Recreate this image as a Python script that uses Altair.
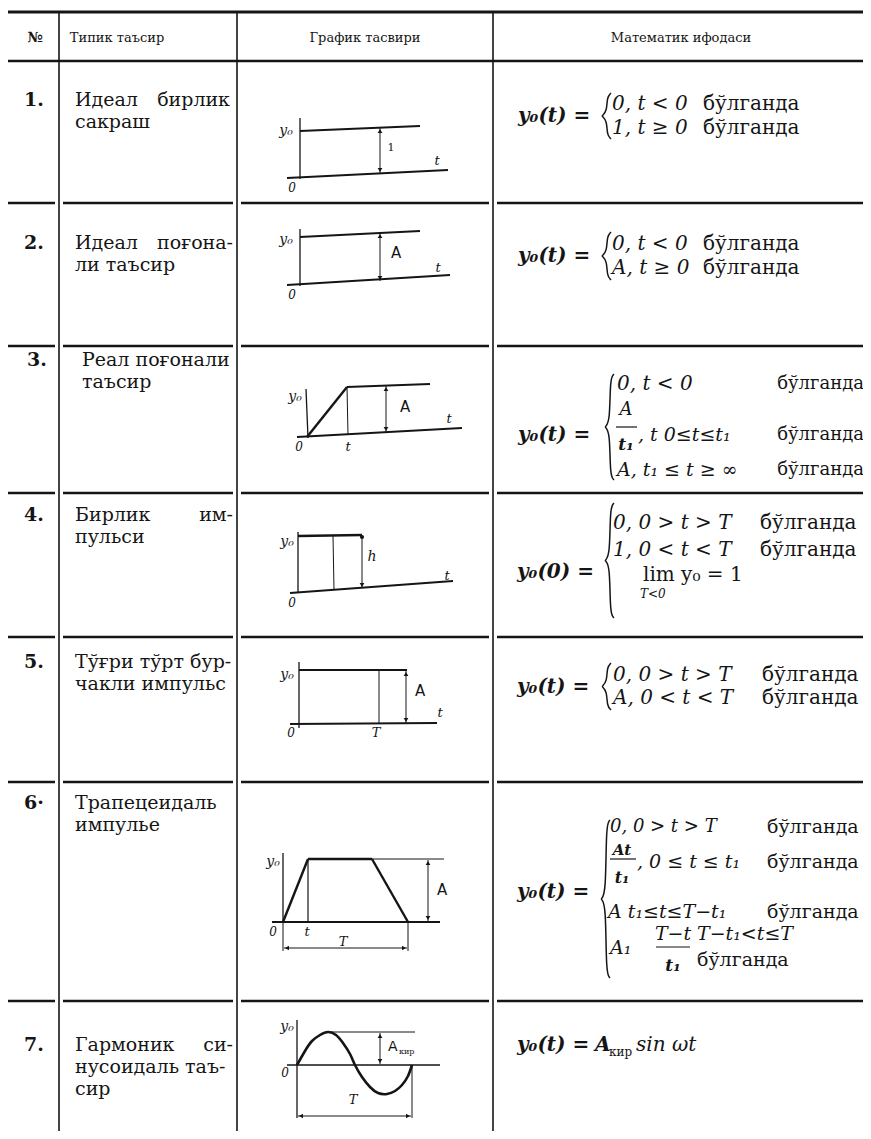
import altair as alt
import pandas as pd

INK = "#151515"
FONT = "DejaVu Serif"

# ---------------- table content ----------------
headers = ["№", "Типик таъсир", "График тасвири", "Математик ифодаси"]
header_x = [35, 117, 365, 681]
numbers = ["1.", "2.", "3.", "4.", "5.", "6·", "7."]
row_text_y = [100, 243, 360, 515, 662, 803, 1045]

# ---------------- table grid (page pixels) ----------------
TOP_Y = 12
HEAD_Y = 61
ROW_Y = [203, 346, 493, 637, 782, 1001]
COL_X = [59, 237, 493]
LEFT, RIGHT, BOTTOM = 6, 866, 1131

# ---------------- sketches: segments (x1, y1, x2, y2, width) ----------------
sk1 = [(300, 118, 300, 179, 1.3), (300, 131, 420, 126, 2.2), (287, 178, 448, 170, 2.0)]
sk2 = [(300, 229, 300, 286, 1.3), (300, 237, 420, 231, 2.2), (287, 285, 450, 275, 2.0)]
sk3 = [(306, 389, 308, 438, 1.3), (297, 437, 462, 428, 2.0), (307, 437, 347, 387, 2.4),
       (347, 387, 430, 384, 2.2), (347, 387, 348, 435, 1.0)]
sk4 = [(298, 532, 298, 593, 1.3), (298, 536, 362, 535, 2.4), (333, 536, 334, 590, 1.0),
       (290, 593, 453, 581, 2.0)]
sk5 = [(299, 662, 299, 728, 1.3), (299, 670, 407, 670, 2.2), (290, 724, 437, 723, 2.0),
       (379, 670, 379, 724, 1.0)]
sk6 = [(283, 853, 283, 922, 1.3), (272, 922, 440, 922, 1.8), (283, 922, 308, 859, 2.4),
       (308, 859, 372, 859, 2.4), (372, 859, 408, 922, 2.4), (308, 859, 308, 922, 1.2),
       (372, 859, 444, 859, 1.0), (283, 922, 283, 951, 1.0), (408, 922, 408, 951, 1.0)]
sk7 = [(297, 1020, 297, 1118, 1.3), (287, 1065, 440, 1065, 1.5), (328, 1032, 415, 1032, 1.0),
       (412, 1065, 412, 1118, 1.0)]

# dimension arrows (x1, y1, x2, y2, head at start, head at end)
arrows = [
    (380, 128, 380, 173, True, True),
    (380, 233, 380, 281, True, True),
    (386, 386, 386, 432, True, True),
    (362, 537, 362, 588, False, True),
    (406, 671, 406, 723, True, True),
    (428, 860, 428, 921, True, True),
    (284, 948, 407, 948, True, True),
    (380, 1033, 380, 1064, True, True),
    (298, 1116, 411, 1116, True, True),
]
dots = [(362, 537)]

# harmonic curve
sine_x = [297, 305, 312, 320, 328, 336, 343, 350, 355, 362, 370, 378, 387, 395, 402, 408, 412]
sine_y = [1065, 1051, 1041, 1035, 1032, 1035, 1043, 1054, 1065, 1077, 1087, 1093, 1094, 1091, 1085, 1076, 1065]

# braces (x, top, bottom)
braces = [(605, 93, 139), (605, 232, 280), (608, 374, 480), (608, 503, 618),
          (605, 663, 710), (604, 820, 978)]

# fraction bars
fraction_bars = [(616, 427, 637, 427, 1.2), (610, 859, 636, 859, 1.2), (656, 947, 690, 947, 1.2)]

# ---------------- texts ----------------
texts = []


def T(t, x, y, st="reg", s=19, al="left"):
    texts.append(dict(t=t, x=x, y=y, st=st, s=s, al=al))


# header
T(headers[0], header_x[0], 38, "bold", 14, "center")
for h, hx in zip(headers[1:], header_x[1:]):
    T(h, hx, 38, "reg", 13, "center")

# row numbers
for n, ny in zip(numbers, row_text_y):
    T(n, 34 if n != "3." else 37, ny, "bold", 19, "center")

# type column
T("Идеал", 75, 100); T("бирлик", 230, 100, al="right"); T("сакраш", 75, 122)
T("Идеал", 75, 243); T("поғона-", 233, 243, al="right"); T("ли таъсир", 75, 265)
T("Реал поғонали", 82, 360); T("таъсир", 82, 382)
T("Бирлик", 75, 515); T("им-", 233, 515, al="right"); T("пульси", 75, 537)
T("Тўғри тўрт бур-", 75, 662); T("чакли импульс", 75, 684)
T("Трапецеидаль", 75, 803); T("импулье", 75, 825)
T("Гармоник", 75, 1045); T("си-", 233, 1045, al="right"); T("нусоидаль таъ-", 75, 1067); T("сир", 75, 1089)

# sketch labels
for (lx, ly) in [(286, 131), (286, 240), (295, 397), (287, 542), (287, 675), (273, 862), (287, 1027)]:
    T("y₀", lx, ly, "ital", 14, "center")
for (lx, ly) in [(292, 188), (292, 295), (299, 447), (292, 603), (291, 733), (273, 932), (285, 1073)]:
    T("0", lx, ly, "ital", 12, "center")
for (lx, ly) in [(437, 161), (438, 268), (449, 419), (447, 576), (440, 713), (348, 447), (307, 932)]:
    T("t", lx, ly, "ital", 13, "center")
T("1", 391, 148, "reg", 11, "center")
T("h", 372, 557, "ital", 14, "center")
for (lx, ly) in [(376, 733), (343, 942), (353, 1100)]:
    T("T", lx, ly, "ital", 13, "center")
for (lx, ly) in [(396, 253), (405, 407), (420, 691), (442, 890)]:
    T("A", lx, ly, "sans", 15, "center")
T("A", 388, 1047, "sans", 14, "left"); T("кир", 399, 1052, "reg", 8, "left")

# mathematical expressions
S = 20
T("y₀(t) =", 518, 116, "bital", S); T("0,  t < 0", 612, 104, "ital", S); T("бўлганда", 703, 104, "reg", S)
T("1,  t ≥ 0", 612, 128, "ital", S); T("бўлганда", 703, 128, "reg", S)

T("y₀(t) =", 518, 256, "bital", S); T("0,  t < 0", 612, 244, "ital", S); T("бўлганда", 703, 244, "reg", S)
T("A,  t ≥ 0", 612, 268, "ital", S); T("бўлганда", 703, 268, "reg", S)

T("y₀(t) =", 518, 435, "bital", S)
T("0,  t < 0", 617, 384, "ital", S); T("бўлганда", 864, 384, "reg", 18, "right")
T("A", 626, 410, "ital", 18, "center"); T("t₁", 626, 445, "bital", 17, "center")
T(", t 0≤t≤t₁", 638, 435, "ital", 19); T("бўлганда", 864, 435, "reg", 18, "right")
T("A,  t₁ ≤ t ≥ ∞", 617, 470, "ital", 19); T("бўлганда", 864, 470, "reg", 18, "right")

T("y₀(0) =", 517, 572, "bital", S)
T("0,  0 > t > T", 613, 523, "ital", S); T("бўлганда", 760, 523, "reg", S)
T("1,  0 < t < T", 613, 550, "ital", S); T("бўлганда", 760, 550, "reg", S)
T("lim  y₀ = 1", 643, 575, "reg", S); T("T<0", 640, 594, "ital", 12)

T("y₀(t) =", 517, 687, "bital", S)
T("0,  0 > t > T", 613, 675, "ital", S); T("бўлганда", 762, 675, "reg", S)
T("A,  0 < t < T", 613, 698, "ital", S); T("бўлганда", 762, 698, "reg", S)

T("y₀(t) =", 517, 892, "bital", S)
T("0,  0 > t > T", 610, 827, "ital", 18); T("бўлганда", 767, 827, "reg", 19)
T("At", 622, 850, "bital", 15, "center"); T(",  0 ≤ t ≤ t₁", 637, 862, "ital", 19); T("бўлганда", 767, 862, "reg", 19)
T("t₁", 622, 878, "bital", 16, "center")
T("A t₁≤t≤T−t₁", 608, 912, "ital", 19); T("бўлганда", 767, 912, "reg", 19)
T("A₁", 610, 948, "ital", 19); T("T−t", 673, 934, "ital", 19, "center"); T("t₁", 673, 966, "bital", 17, "center")
T("T−t₁<t≤T", 697, 934, "ital", 19); T("бўлганда", 697, 960, "reg", 19)

T("y₀(t) =", 517, 1045, "bital", S); T("A", 595, 1045, "bital", S)
T("кир", 609, 1052, "reg", 12); T("sin ωt", 636, 1045, "ital", S)

# ---------------- build data frames ----------------
rules = [(LEFT, TOP_Y, RIGHT, TOP_Y, 3.0), (LEFT, HEAD_Y, RIGHT, HEAD_Y, 2.6)]
bounds = [LEFT] + COL_X + [RIGHT]
for ry in ROW_Y:
    for i in range(4):
        x1 = bounds[i] + (4 if i > 0 else 0)
        x2 = bounds[i + 1] - (4 if i < 3 else 0)
        rules.append((x1, ry, x2, ry, 2.6))
for cx in COL_X:
    rules.append((cx, TOP_Y, cx, BOTTOM, 1.6))
for sk in (sk1, sk2, sk3, sk4, sk5, sk6, sk7):
    rules.extend(sk)
rules.extend(fraction_bars)

heads = []
for (x1, y1, x2, y2, h1, h2) in arrows:
    rules.append((x1, y1, x2, y2, 1.0))
    if x1 == x2:
        if h1:
            heads.append(dict(x=x1, y=y1 + 3, sh="triangle-up", a=22))
        if h2:
            heads.append(dict(x=x2, y=y2 - 3, sh="triangle-down", a=22))
    else:
        if h1:
            heads.append(dict(x=x1 + 3, y=y1, sh="triangle-left", a=22))
        if h2:
            heads.append(dict(x=x2 - 3, y=y2, sh="triangle-right", a=22))
for (dx, dy) in dots:
    heads.append(dict(x=dx, y=dy, sh="circle", a=18))

df_rules = pd.DataFrame(rules, columns=["x", "y", "x2", "y2", "w"])
df_heads = pd.DataFrame(heads)
df_sine = pd.DataFrame(dict(x=sine_x, y=sine_y, i=list(range(len(sine_x))), id="sine", w=2.6))

brace_pts = []
for k, (bx, bt, bb) in enumerate(braces):
    m = (bt + bb) / 2
    pts = [(bx + 6, bt), (bx + 2, bt + 4), (bx + 2, m - 5), (bx - 3, m), (bx - 3, m),
           (bx + 2, m + 5), (bx + 2, bb - 4), (bx + 6, bb)]
    for j, (px, py) in enumerate(pts):
        brace_pts.append(dict(x=px, y=py, i=j, id=f"b{k}", w=1.5))
df_brace = pd.DataFrame(brace_pts)
df_text = pd.DataFrame(texts)

# ---------------- chart ----------------
X = alt.X("x:Q", scale=alt.Scale(domain=[8, 863], nice=False, zero=False), axis=None)
Y = alt.Y("y:Q", scale=alt.Scale(domain=[8, 1131], nice=False, zero=False, reverse=True), axis=None)

layers = []
layers.append(
    alt.Chart(df_rules).mark_rule(color=INK, strokeCap="butt").encode(
        x=X, y=Y, x2="x2:Q", y2="y2:Q", size=alt.Size("w:Q", scale=None)
    )
)
layers.append(
    alt.Chart(df_sine).mark_line(color=INK, interpolate="natural").encode(
        x=X, y=Y, order="i:Q", detail="id:N", size=alt.Size("w:Q", scale=None)
    )
)
layers.append(
    alt.Chart(df_brace).mark_line(color=INK, interpolate="basis").encode(
        x=X, y=Y, order="i:Q", detail="id:N", size=alt.Size("w:Q", scale=None)
    )
)
layers.append(
    alt.Chart(df_heads).mark_point(filled=True, color=INK, opacity=1).encode(
        x=X, y=Y, shape=alt.Shape("sh:N", scale=None), size=alt.Size("a:Q", scale=None)
    )
)

STYLES = {
    "reg": dict(font=FONT),
    "bold": dict(font=FONT, fontWeight="bold"),
    "ital": dict(font=FONT, fontStyle="italic"),
    "bital": dict(font=FONT, fontStyle="italic", fontWeight="bold"),
    "sans": dict(font="DejaVu Sans"),
}
for st, props in STYLES.items():
    for al in ["left", "center", "right"]:
        sub = df_text[(df_text.st == st) & (df_text.al == al)]
        if len(sub) == 0:
            continue
        layers.append(
            alt.Chart(sub).mark_text(align=al, baseline="middle", color=INK, **props).encode(
                x=X, y=Y, text="t:N", size=alt.Size("s:Q", scale=None)
            )
        )

chart = (
    alt.layer(*layers)
    .properties(width=855, height=1123, padding=0, autosize=alt.AutoSizeParams(type="none"),
                background="white")
    .configure_view(stroke=None)
)

chart.save("out.html", embed_options={"renderer": "svg", "actions": False})
